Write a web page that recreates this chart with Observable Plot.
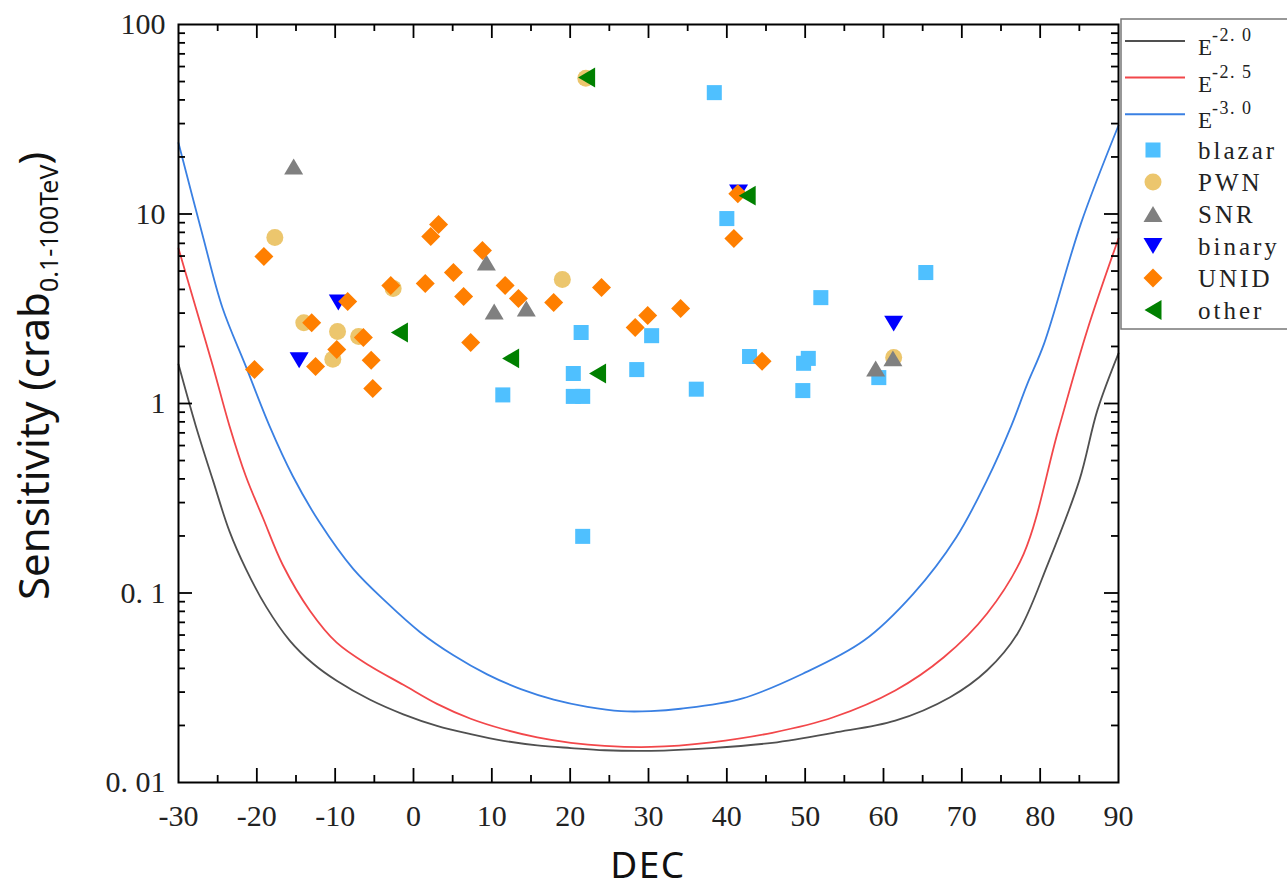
<!DOCTYPE html>
<html><head><meta charset="utf-8">
<script src="https://cdn.jsdelivr.net/npm/d3@7"></script>
<script src="https://cdn.jsdelivr.net/npm/@observablehq/plot@0.6"></script>
<style>
body{margin:0;background:#fff;}
#wrap{position:relative;width:1287px;height:889px;overflow:hidden;background:#fff;}
#legend{position:absolute;left:0;top:0;}
</style></head><body><div id="wrap"></div>
<script>
// ---------- data ----------
const xTicks = [-30,-20,-10,0,10,20,30,40,50,60,70,80,90];
const xTickLabels = ["-30","-20","-10","0","10","20","30","40","50","60","70","80","90"];
const yTicks = [0.01,0.1,1,10,100];
const yTickLabels = ["0. 01","0. 1","1","10","100"];

// sensitivity curves: [DEC, crab]
const curveE20 = [[-30,1.61],[-27.8,0.764],[-25.6,0.393],[-23.5,0.212],[-21.4,0.134],[-18.8,0.0845],[-15.8,0.0561],[-12.8,0.0423],[-9.8,0.0344],[-5.6,0.0274],[-1.3,0.0229],[3.0,0.0199],[7.3,0.018],[11.5,0.0166],[15.8,0.0157],[20.1,0.0152],[24.4,0.0148],[30.3,0.0147],[38.0,0.0152],[45.8,0.0162],[53.6,0.0183],[61.5,0.0212],[68.5,0.0282],[73.2,0.039],[77.1,0.061],[81.0,0.143],[85.0,0.393],[87.3,0.92],[90,1.84]];
const curveE25 = [[-30,6.58],[-27.8,3.21],[-25.6,1.57],[-23.5,0.764],[-21.4,0.413],[-19.2,0.248],[-16.7,0.141],[-13.2,0.0804],[-9.8,0.0547],[-5.6,0.0413],[-1.3,0.0328],[3.0,0.026],[7.3,0.0217],[11.5,0.0191],[15.8,0.0173],[20.1,0.0162],[24.4,0.0156],[30.3,0.0154],[38.0,0.0163],[45.8,0.0183],[53.6,0.0221],[61.5,0.0306],[67.7,0.0458],[73.2,0.0777],[77.9,0.161],[82.3,0.72],[86.0,2.43],[90,7.43]];
const curveE30 = [[-30,23.7],[-26.9,7.66],[-24.4,3.21],[-21.4,1.57],[-18.4,0.764],[-15.4,0.413],[-12.0,0.236],[-7.7,0.134],[-3.4,0.0889],[0.85,0.0621],[5.1,0.0469],[9.4,0.0372],[13.7,0.0311],[17.9,0.0274],[22.2,0.0251],[26.5,0.0238],[30.3,0.0238],[34.1,0.0245],[41.9,0.0277],[49.7,0.0375],[57.5,0.0561],[63.8,0.099],[69.3,0.197],[73.2,0.393],[76.3,0.76],[78.3,1.25],[80.5,2.07],[85.2,8.9],[90,29.3]];

// sources: [DEC, crab]
const blazar = [[38.4,43.7],[40.0,9.46],[21.4,2.37],[20.4,1.44],[20.4,1.09],[21.6,1.09],[11.4,1.11],[30.4,2.28],[28.5,1.51],[36.1,1.19],[42.9,1.77],[52.0,3.62],[65.4,4.91],[50.4,1.73],[49.8,1.63],[49.7,1.17],[59.4,1.37],[21.6,0.199]];
const pwn = [[-17.7,7.51],[19.0,4.51],[22.0,52.0],[-14.0,2.67],[-9.7,2.40],[-10.3,1.71],[-7.0,2.26],[-2.6,4.05],[61.3,1.75]];
const snr = [[-15.3,17.8],[9.3,5.55],[10.3,3.06],[14.4,3.17],[59.0,1.53],[61.2,1.73]];
const binary = [[-14.6,1.69],[-9.6,3.41],[61.3,2.64],[41.5,13.0]];
const unid = [[-19.1,5.97],[-20.3,1.51],[-13.0,2.67],[-8.4,3.45],[-9.8,1.93],[-12.5,1.57],[-6.4,2.23],[-5.4,1.69],[-5.2,1.20],[-2.9,4.20],[1.5,4.30],[5.1,4.91],[6.4,3.67],[7.3,2.10],[3.2,8.8],[2.2,7.6],[8.8,6.41],[11.7,4.20],[13.4,3.58],[17.9,3.41],[24.0,4.09],[28.3,2.52],[29.9,2.91],[34.1,3.17],[40.9,7.43],[41.4,12.8],[44.5,1.67]];
const other = [[22.1,52.5],[42.6,12.5],[-1.8,2.37],[12.4,1.73],[23.5,1.44]];

const lineSup = ["-2. 0","-2. 5","-3. 0"];
const lineColors = ["#505050","#f2474a","#3a80e3"];
const srcNames = ["blazar","PWN","SNR","binary","UNID","other"];
const srcColors = ["#4fc0ff","#ecc66d","#808080","#0000ff","#ff7f00","#008000"];

// ---------- symbols ----------
const symSquare = {draw(c,size){const s=Math.sqrt(size)*0.53; c.rect(-s,-s,2*s,2*s);}};
const symCircle = {draw(c,size){const r=Math.sqrt(size)*0.6; c.moveTo(r,0); c.arc(0,0,r,0,2*Math.PI);}};
const symUp = {draw(c,size){const s=Math.sqrt(size); const w=s*0.67,h=s*0.56; c.moveTo(0,-h); c.lineTo(w,h); c.lineTo(-w,h); c.closePath();}};
const symDown = {draw(c,size){const s=Math.sqrt(size); const w=s*0.67,h=s*0.56; c.moveTo(-w,-h); c.lineTo(w,-h); c.lineTo(0,h); c.closePath();}};
const symDiamond = {draw(c,size){const s=Math.sqrt(size)*0.67; c.moveTo(0,-s); c.lineTo(s,0); c.lineTo(0,s); c.lineTo(-s,0); c.closePath();}};
const symLeft = {draw(c,size){const s=Math.sqrt(size); const w=s*0.6,h=s*0.7; c.moveTo(-w,0); c.lineTo(w,-h); c.lineTo(w,h); c.closePath();}};
const srcSymbols = [symSquare,symCircle,symUp,symDown,symDiamond,symLeft];
const srcData = [blazar,pwn,snr,binary,unid,other];

// ---------- layout ----------
const W=1287,H=889,mL=178,mR=169,mT=24,mB=107;
const plotW=W-mL-mR, plotH=H-mT-mB;
const xMajor = xTicks.slice(1,-1);
const xMinor = xTicks.slice(0,-1).map(d=>d+5);
const yMajor = yTicks.slice(1,-1);
const yMinor = [];
for (const t of yTicks.slice(0,-1)) for (let m=2;m<=9;m++) yMinor.push(+(m*t).toPrecision(3));

const marks = [];
[curveE20,curveE25,curveE30].forEach((c,i)=>{
  marks.push(Plot.line(c,{x:d=>d[0],y:d=>d[1],stroke:lineColors[i],strokeWidth:1.8,curve:"catmull-rom"}));
});
srcData.forEach((arr,i)=>{
  marks.push(Plot.dot(arr,{x:d=>d[0],y:d=>d[1],symbol:srcSymbols[i],r:8,fill:srcColors[i],stroke:"none"}));
});
const tk = {stroke:"#000",strokeWidth:1.8};
marks.push(Plot.tickX(xMajor,{x:d=>d,insetTop:plotH-14,...tk}));
marks.push(Plot.tickX(xMinor,{x:d=>d,insetTop:plotH-7,...tk}));
marks.push(Plot.tickX(xMajor,{x:d=>d,insetBottom:plotH-14,...tk}));
marks.push(Plot.tickX(xMinor,{x:d=>d,insetBottom:plotH-7,...tk}));
marks.push(Plot.tickY(yMajor,{y:d=>d,insetRight:plotW-14,...tk}));
marks.push(Plot.tickY(yMinor,{y:d=>d,insetRight:plotW-7,...tk}));
marks.push(Plot.tickY(yMajor,{y:d=>d,insetLeft:plotW-14,...tk}));
marks.push(Plot.tickY(yMinor,{y:d=>d,insetLeft:plotW-7,...tk}));
marks.push(Plot.frame({stroke:"#000",strokeWidth:2}));
marks.push(Plot.axisX(xTicks,{tickSize:0,tickPadding:22,tickFormat:d=>xTickLabels[xTicks.indexOf(d)],label:null,fontSize:30,fontFamily:"Liberation Serif",fill:"#222"}));
marks.push(Plot.axisY(yTicks,{tickSize:0,tickPadding:13,tickFormat:d=>yTickLabels[yTicks.indexOf(d)],label:null,fontSize:30,fontFamily:"Liberation Serif",fill:"#222"}));

const chart = Plot.plot({
  width:W,height:H,marginLeft:mL,marginRight:mR,marginTop:mT,marginBottom:mB,
  x:{domain:[-30,90]},
  y:{type:"log",domain:[0.01,100]},
  style:{background:"white",fontFamily:"Liberation Serif",fontSize:"30px",overflow:"visible"},
  marks
});
document.getElementById("wrap").appendChild(chart);

// axis titles
const svg = d3.select(chart);
svg.append("text").attr("x",mL+plotW/2).attr("y",878).attr("text-anchor","middle")
  .attr("font-family","Noto Sans").attr("font-size",37).attr("letter-spacing",1.5).attr("fill","#111").text("DEC");
const yt = svg.append("text").attr("transform",`translate(49,${mT+plotH/2-27}) rotate(-90)`)
  .attr("text-anchor","middle").attr("font-family","Noto Sans").attr("font-size",42).attr("fill","#111");
yt.append("tspan").text("Sensitivity (crab");
yt.append("tspan").attr("font-size",25).attr("dy",9).text("0.1-100TeV");
yt.append("tspan").attr("dy",-9).text(")");

// legend
const lg = d3.select("#wrap").append("svg").attr("id","legend").attr("width",W).attr("height",H);
const lx = 1121, ly = 19;
lg.append("rect").attr("x",lx).attr("y",ly).attr("width",200).attr("height",310)
  .attr("fill","white").attr("stroke","#777").attr("stroke-width",1.5);
const textX = 1198;
lineSup.forEach((s,i)=>{
  const y = ly+22+i*36.6;
  lg.append("line").attr("x1",1125).attr("x2",1185).attr("y1",y).attr("y2",y).attr("stroke",lineColors[i]).attr("stroke-width",2);
  const t = lg.append("text").attr("x",textX).attr("y",y+14).attr("font-family","Liberation Serif").attr("font-size",23).attr("fill","#222");
  t.append("tspan").text("E");
  t.append("tspan").attr("dy",-14).attr("font-size",18).attr("letter-spacing",1.5).text(s);
});
srcNames.forEach((n,i)=>{
  const y = ly+131+i*32;
  lg.append("path").attr("transform",`translate(1153,${y})`)
    .attr("d",d3.symbol().type(srcSymbols[i]).size(201)()).attr("fill",srcColors[i]);
  lg.append("text").attr("x",textX).attr("y",y+9).attr("font-family","Liberation Serif").attr("font-size",25)
    .attr("letter-spacing",3).attr("fill","#222").text(n);
});
</script></body></html>
